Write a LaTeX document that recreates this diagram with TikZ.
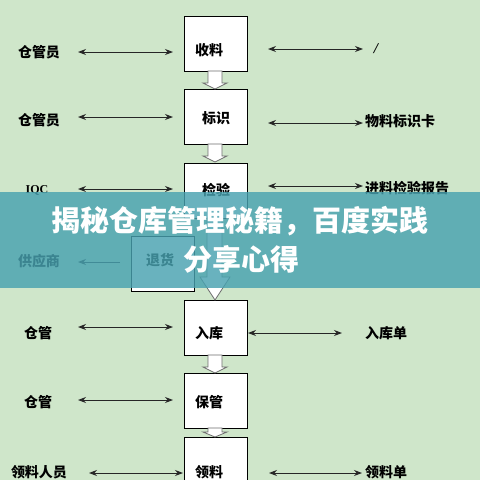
\documentclass[tikz,border=0pt]{standalone}
\usepackage{fontspec}
\newfontfamily\cjk{Noto Sans CJK SC}
\setmainfont{Liberation Serif}
\usetikzlibrary{arrows.meta}
\definecolor{bggreen}{RGB}{207,230,202}
\definecolor{banner}{RGB}{72,162,176}
\definecolor{arrowgray}{RGB}{110,110,110}
\tikzset{
  lab/.style={font=\cjk\bfseries\fontsize{14}{14}\selectfont, inner sep=0pt},
  boxn/.style={draw=black, fill=white, line width=0.8pt, minimum width=63pt, minimum height=55pt, inner sep=0pt},
  dbl/.style={{Stealth[length=8pt,width=6pt]}-{Stealth[length=8pt,width=6pt]}, line width=1pt, draw=black!85},
  sgl/.style={-{Stealth[length=8pt,width=6pt]}, line width=1pt, draw=black!85},
  blockarr/.style={draw=arrowgray, fill=white, line width=0.8pt},
  title/.style={font=\cjk\bfseries\fontsize{29}{29}\selectfont, text=white, inner sep=0pt}
}
\begin{document}
\begin{tikzpicture}[x=1pt,y=-1pt]
\fill[bggreen] (0,0) rectangle (480,480);
\useasboundingbox (0,0) rectangle (480,480);
% boxes
\node[boxn, anchor=north west] (b1) at (184,16) {};
\node[boxn, anchor=north west] (b2) at (184,89) {};
\node[boxn, anchor=north west] (b3) at (184,163) {};
\node[boxn, anchor=north west] (b4) at (184,300) {};
\node[boxn, anchor=north west] (b5) at (184,373) {};
\node[boxn, anchor=north west] (b6) at (184,437) {};
% box texts
\node[lab] (t1) at (209,50) {收料};
\node[lab] (t2) at (216,118) {标识};
\node[lab] (t3) at (216,190) {检验};
\node[lab] (t4) at (209,333) {入库};
\node[lab] (t5) at (209,402) {保管};
\node[lab] (t6) at (209,472) {领料};
% block arrows
\foreach \y in {71,144,355}{
  \draw[blockarr] (208,\y) -- (222,\y) -- (222,\y+12) -- (227,\y+12) -- (215,\y+18) -- (203,\y+12) -- (208,\y+12) -- cycle;
}
\draw[blockarr] (208,428) -- (222,428) -- (222,432) -- (227,432) -- (215,437) -- (203,432) -- (208,432) -- cycle;
\draw[blockarr] (207,218) -- (222,218) -- (222,277) -- (230,277) -- (215,300) -- (200,277) -- (207,277) -- cycle;
% return box
\node[boxn, anchor=north west] (b7) at (131,236) {};
\node[lab] (t7) at (160,260) {退货};
% left labels
\node[lab] (l1) at (39,52) {仓管员};
\node[lab] (l2) at (39,120) {仓管员};
\node[font=\bfseries\fontsize{12}{12}\selectfont, inner sep=0pt] (l3) at (37,190) {IQC};
\node[lab] (l4) at (39,261) {供应商};
\node[lab] (l5) at (38,333) {仓管};
\node[lab] (l6) at (38,402) {仓管};
\node[lab] (l7) at (39,472) {领料人员};
% right labels
\node[font=\bfseries\fontsize{15}{15}\selectfont\itshape, inner sep=0pt] (r1) at (376,49) {/};
\node[lab, anchor=west] (r2) at (365,121) {物料标识卡};
\node[lab, anchor=west] (r3) at (365,188) {进料检验报告};
\node[lab, anchor=west] (r5) at (365,333) {入库单};
\node[lab, anchor=west] (r7) at (365,472) {领料单};
% left arrows
\draw[dbl] (78,52) -- (173,52);
\draw[dbl] (78,117) -- (173,117);
\draw[dbl] (78,189) -- (173,189);
\draw[sgl] (120,262) -- (78,262);
\draw[dbl] (78,327) -- (173,327);
\draw[dbl] (78,400) -- (173,400);
\draw[dbl] (89,473) -- (183,473);
% right arrows
\draw[dbl] (268,49) -- (363,49);
\draw[dbl] (268,123) -- (363,123);
\draw[dbl] (268,186) -- (363,186);
\draw[dbl] (248,333) -- (342,333);
\draw[dbl] (269,473) -- (362,473);
% banner
\fill[banner, opacity=0.82] (0,192) rectangle (480,288);
\node[title] (h1) at (240,221) {揭秘仓库管理秘籍，百度实践};
\node[title] (h2) at (241,259) {分享心得};
\end{tikzpicture}
\end{document}
